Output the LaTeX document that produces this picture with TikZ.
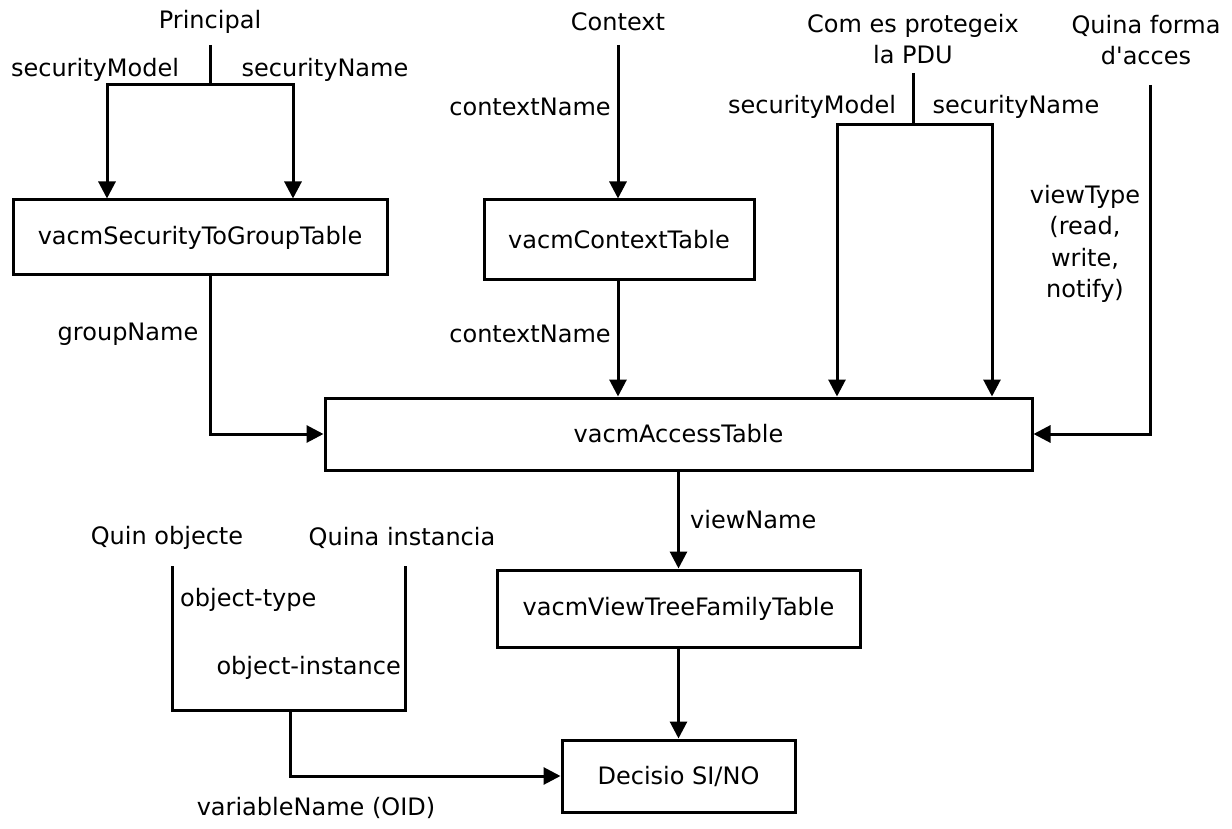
\documentclass[tikz,border=0pt]{standalone}
\usepackage{fontspec}
\setmainfont{DejaVu Sans}
\usetikzlibrary{arrows.meta,positioning}

\begin{document}
\begin{tikzpicture}[
    x=1pt, y=-1pt,
    font=\fontsize{24}{31.5}\selectfont,
    every node/.style={inner sep=0pt},
    box/.style={draw, line width=3pt, align=center},
    ln/.style={line width=3pt},
    arr/.style={-{Triangle[length=17pt 0 0, width=17pt 0 0]}, line width=3pt}
]
\useasboundingbox (0,0) rectangle (1232,829);

% tables
\node[box, minimum width=374pt, minimum height=75pt] (stg) at (200,237.5) {vacmSecurityToGroupTable};
\node[box, minimum width=270pt, minimum height=80pt] (ctx) at (619,240) {vacmContextTable};
\node[box, minimum width=707pt, minimum height=72pt] (acc) at (678.5,434) {vacmAccessTable};
\node[box, minimum width=363pt, minimum height=77pt] (vtf) at (678.5,608.5) {vacmViewTreeFamilyTable};
\node[box, minimum width=233pt, minimum height=72pt] (dec) at (678.5,776) {Decisio SI/NO};

% inputs
\node (principal) at (210,22) {Principal};
\node (context) at (618,22) {Context};
\node[align=center] (pdu) at (913,39) {Com es protegeix\\la PDU};
\node[align=center] (forma) at (1146,40) {Quina forma\\d\textquotesingle acces};
\node (qobj) at (167,538) {Quin objecte};
\node (qinst) at (402,538) {Quina instancia};

% labels
\node (smA) at (95,70) {securityModel};
\node (snA) at (325,70) {securityName};
\node (group) at (128,334) {groupName};
\node (cnA) at (530,107) {contextName};
\node (cnB) at (530,334) {contextName};
\node (smB) at (812,107) {securityModel};
\node (snB) at (1016,107) {securityName};
\node[align=center] (vtype) at (1085,244) {viewType\\(read,\\write,\\notify)};
\node[anchor=west] (vname) at (690,520) {viewName};
\node[anchor=west] (otype) at (180,600) {object-type};
\node[anchor=east] (oinst) at (401,668) {object-instance};
\node (varname) at (316,808) {variableName (OID)};

% free ends
\coordinate (pt1) at (210,45);
\coordinate (pj1) at (210,85);
\coordinate (ct1) at (618,45);
\coordinate (pt2) at (913,73);
\coordinate (pj2) at (913,125);
\coordinate (ft1) at (1150,85);
\coordinate (u1) at (172,566);
\coordinate (u2) at (405,566);
\coordinate (ub) at (290,710);

% connectors
\draw[ln] (pt1) -- (pj1);
\draw[arr] (pj1) -| ([xshift=-93pt]stg.north);
\draw[arr] (pj1) -| ([xshift=93pt]stg.north);
\draw[arr] (stg.south -| pj1) |- (acc);
\draw[arr] (ct1) -- (ct1 |- ctx.north);
\draw[arr] (ctx.south -| ct1) -- (ct1 |- acc.north);
\draw[ln] (pt2) -- (pj2);
\draw[arr] (pj2) -| ([xshift=158.5pt]acc.north);
\draw[arr] (pj2) -| ([xshift=313.5pt]acc.north);
\draw[arr] (ft1) |- (acc);
\draw[arr] (acc) -- (vtf);
\draw[arr] (vtf) -- (dec);
\draw[ln] (u1) |- (ub) -| (u2);
\draw[arr] (ub) |- (dec);
\end{tikzpicture}
\end{document}
